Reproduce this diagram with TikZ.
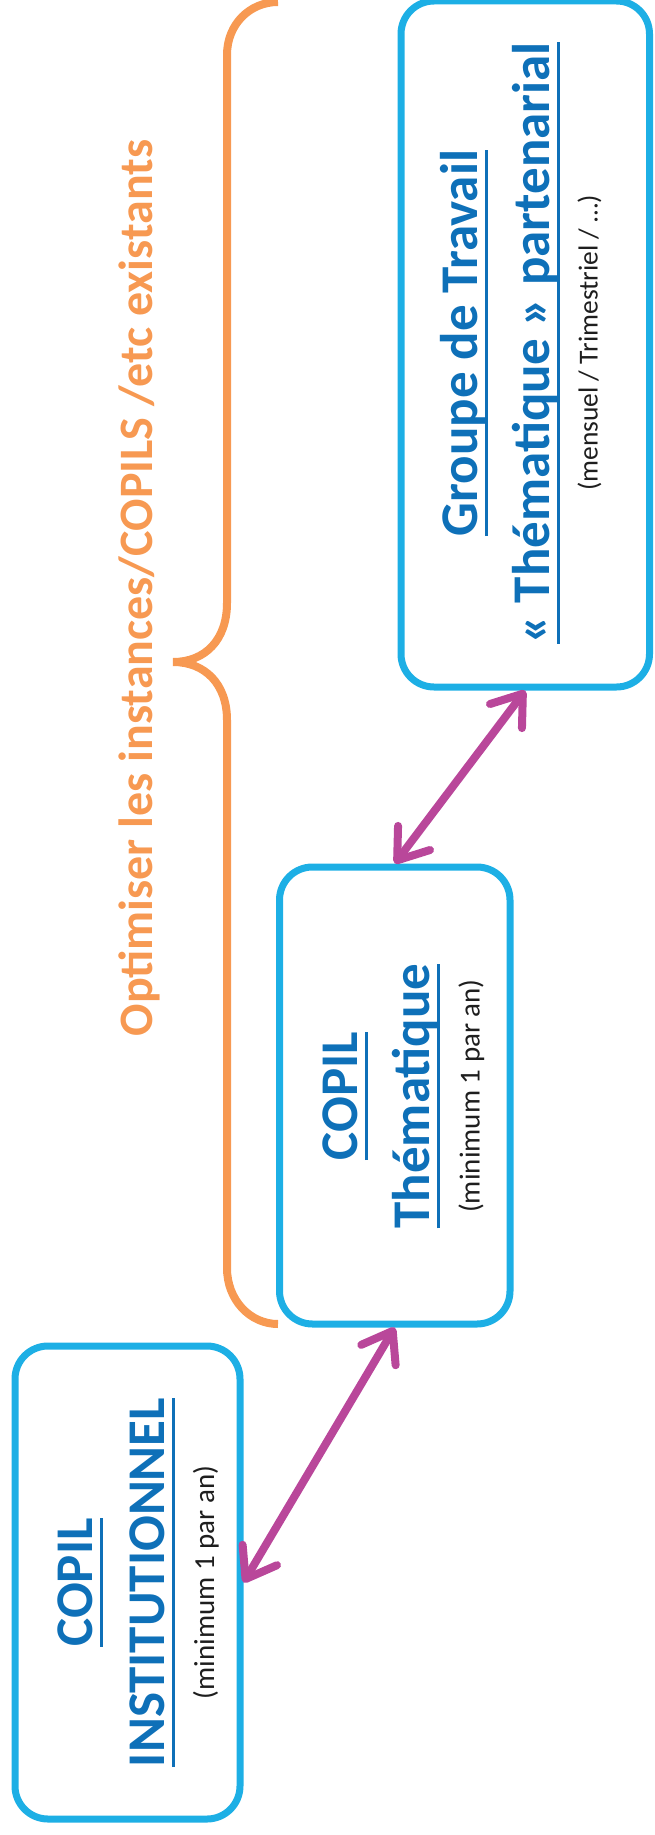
\documentclass[tikz,border=0pt]{standalone}
\usepackage{fontspec}
\setmainfont{Carlito}
\usepackage{xcolor}
\usepackage{tikz}
\usetikzlibrary{arrows.meta}

\definecolor{boxblue}{RGB}{29,175,229}
\definecolor{titleblue}{RGB}{14,112,184}
\definecolor{linkpink}{RGB}{185,71,154}
\definecolor{braceorange}{RGB}{247,153,82}
\definecolor{notegrey}{RGB}{30,30,30}

\newsavebox{\ulbox}
\newcommand{\ulin}[1]{\sbox{\ulbox}{#1}\rlap{\rule[-10.5pt]{\wd\ulbox}{3pt}}\usebox{\ulbox}}
\newcommand{\subnote}[1]{{\fontsize{29}{34}\selectfont\mdseries\color{notegrey}#1}}

\begin{document}
\begin{tikzpicture}[x=1pt,y=-1pt]
\useasboundingbox (0,0) rectangle (654,1835);
% accolade
\draw[braceorange, line width=8pt] (278,2) .. controls (250,2) and (227,24) .. (227,55)
    -- (227,603) .. controls (227,640) and (205,662) .. (173,662)
    .. controls (205,662) and (227,684) .. (227,720)
    -- (227,1268) .. controls (227,1300) and (250,1324) .. (278,1324);
\node[braceorange, rotate=90, anchor=base, font=\fontsize{48}{58}\selectfont\bfseries] (O) at (152,588) {Optimiser les instances/COPILS /etc existants};
\begin{scope}[every node/.style={draw=boxblue,line width=7pt,rounded corners=33pt,rotate=90}]
    \node[minimum width=473pt, minimum height=225pt] (A) at (127.5,1582.5) {};
    \node[minimum width=457pt, minimum height=230.5pt] (B) at (394.75,1095.5) {};
    \node[minimum width=686pt, minimum height=248.5pt] (C) at (525.25,344) {};
%    \node (D) at (525.25,1582.5) {};
\end{scope}
\begin{scope}[every node/.style={titleblue,align=center,rotate=90,
              font=\fontsize{53}{72}\selectfont\bfseries}]
    \node (TA) at (138,1582.5) {\ulin{COPIL}\\\ulin{INSTITUTIONNEL}\\[-22pt]\subnote{(minimum 1 par an)}};
    \node (TB) at (403.5,1096) {\ulin{COPIL}\\\ulin{Thématique}\\[-22pt]\subnote{(minimum 1 par an)}};
    \node (TC) at (521,343) {\ulin{Groupe de Travail}\\\ulin{« Thématique » partenarial}\\[-24pt]{\fontsize{27.5}{32}\selectfont\mdseries\color{notegrey}(mensuel / Trimestriel / …)}};
\end{scope}
\begin{scope}[>={Straight Barb[length=28pt,width=40pt,round]},
              every edge/.style={draw=linkpink,line width=8pt}]
    \path [<->] (A.south) edge (B.west);
    \path [<->] (B.east) edge (C.west);
%    \path [<->] (A.south) edge (C.west);
\end{scope}
\end{tikzpicture}
\end{document}
